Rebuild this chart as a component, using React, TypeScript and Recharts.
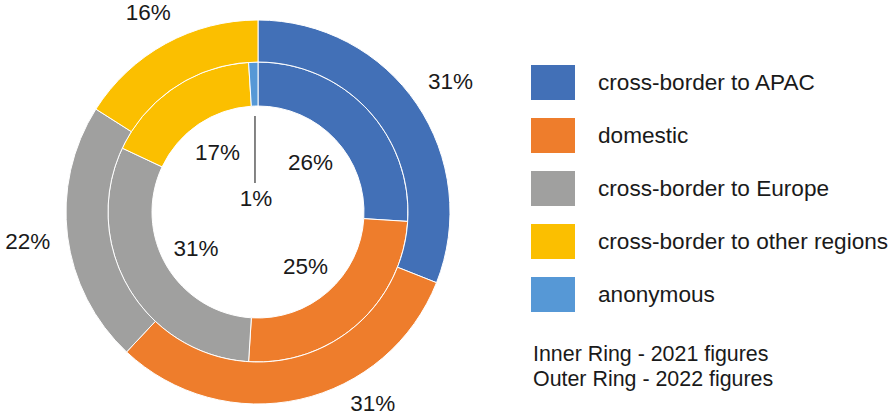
import { Cell, Legend, Pie, PieChart } from "recharts";

const categories = [
  "cross-border to APAC",
  "domestic",
  "cross-border to Europe",
  "cross-border to other regions",
  "anonymous",
];
const figures2021 = [26, 25, 31, 17, 1];
const figures2022 = [31, 31, 22, 16, 0];
const COLORS = ["#4270B7", "#EE7D2C", "#A0A09F", "#FBBF00", "#5698D6"];
const notes = ["Inner Ring - 2021 figures", "Outer Ring - 2022 figures"];

const innerData = categories.map((name, i) => ({ name, value: figures2021[i], color: COLORS[i] }));
const outerData = categories
  .map((name, i) => ({ name, value: figures2022[i], color: COLORS[i] }))
  .filter((d) => d.value > 0);

const W = 891;
const H = 416;
const FONT = "'Liberation Sans', Arial, Helvetica, sans-serif";
const RADIAN = Math.PI / 180;

const renderOuterLabel = (props: any) => {
  const { cx, cy, midAngle, outerRadius, value } = props;
  if (!value) return null;
  const dx = Math.cos(-midAngle * RADIAN);
  const dy = Math.sin(-midAngle * RADIAN);
  const halfW = 23;
  const halfH = 10;
  const r = outerRadius + 16 + halfW * Math.abs(dx) + halfH * Math.abs(dy);
  let x = cx + r * dx;
  let y = cy + r * dy;
  const maxY = H - 13;
  if (y > maxY) {
    y = maxY;
    const off = Math.sqrt(Math.max(r * r - (y - cy) * (y - cy), 0));
    x = cx + (dx >= 0 ? off : -off);
  }
  return (
    <text x={x} y={y} fill="#1a1a1a" textAnchor="middle" dominantBaseline="central" fontSize={22.5} fontFamily={FONT}>
      {`${value}%`}
    </text>
  );
};

const renderInnerLabel = (props: any) => {
  const { cx, cy, midAngle, innerRadius, value, percent } = props;
  const dx = Math.cos(-midAngle * RADIAN);
  const dy = Math.sin(-midAngle * RADIAN);
  if (percent < 0.03) {
    // tiny slice: leader line down into the hole
    const x0 = cx + (innerRadius - 10) * dx;
    const y0 = cy + (innerRadius - 10) * dy;
    return (
      <g>
        <line x1={x0} y1={y0} x2={x0} y2={y0 + 67} stroke="#333" strokeWidth={1.2} />
        <text x={x0 + 1} y={y0 + 82} fill="#1a1a1a" textAnchor="middle" dominantBaseline="central" fontSize={22.5} fontFamily={FONT}>
          {`${value}%`}
        </text>
      </g>
    );
  }
  const r = innerRadius - 34;
  return (
    <text x={cx + r * dx} y={cy + r * dy} fill="#1a1a1a" textAnchor="middle" dominantBaseline="central" fontSize={22.5} fontFamily={FONT}>
      {`${value}%`}
    </text>
  );
};

const renderLegend = () => (
  <div style={{ fontFamily: FONT, color: "#1a1a1a" }}>
    {categories.map((name, i) => (
      <div key={name} style={{ display: "flex", alignItems: "center", height: 35, marginBottom: 18 }}>
        <div style={{ width: 44, height: 35, background: COLORS[i], marginRight: 23 }} />
        <span style={{ fontSize: 22.6 }}>{name}</span>
      </div>
    ))}
    <div style={{ marginTop: 30, marginLeft: 2, fontSize: 21.4, lineHeight: "25px" }}>
      {notes.map((n) => (
        <div key={n}>{n}</div>
      ))}
    </div>
  </div>
);

export default function App() {
  return (
    <div style={{ position: "absolute", left: 0, top: 0 }}>
      <PieChart width={W} height={H} margin={{ top: 0, right: 0, bottom: 0, left: 0 }}>
        <Pie
          data={innerData}
          dataKey="value"
          nameKey="name"
          cx={258}
          cy={212}
          innerRadius={106}
          outerRadius={150}
          startAngle={90}
          endAngle={-270}
          stroke="#fff"
          strokeWidth={1}
          label={renderInnerLabel}
          labelLine={false}
          isAnimationActive={false}
        >
          {innerData.map((d) => (
            <Cell key={`in-${d.name}`} fill={d.color} />
          ))}
        </Pie>
        <Pie
          data={outerData}
          dataKey="value"
          nameKey="name"
          cx={258}
          cy={212}
          innerRadius={150}
          outerRadius={192}
          startAngle={90}
          endAngle={-270}
          stroke="#fff"
          strokeWidth={1}
          label={renderOuterLabel}
          labelLine={false}
          isAnimationActive={false}
        >
          {outerData.map((d) => (
            <Cell key={`out-${d.name}`} fill={d.color} />
          ))}
        </Pie>
        <Legend
          layout="vertical"
          align="right"
          verticalAlign="middle"
          content={renderLegend}
          wrapperStyle={{ left: 531, top: 65, width: 360 }}
        />
      </PieChart>
    </div>
  );
}
